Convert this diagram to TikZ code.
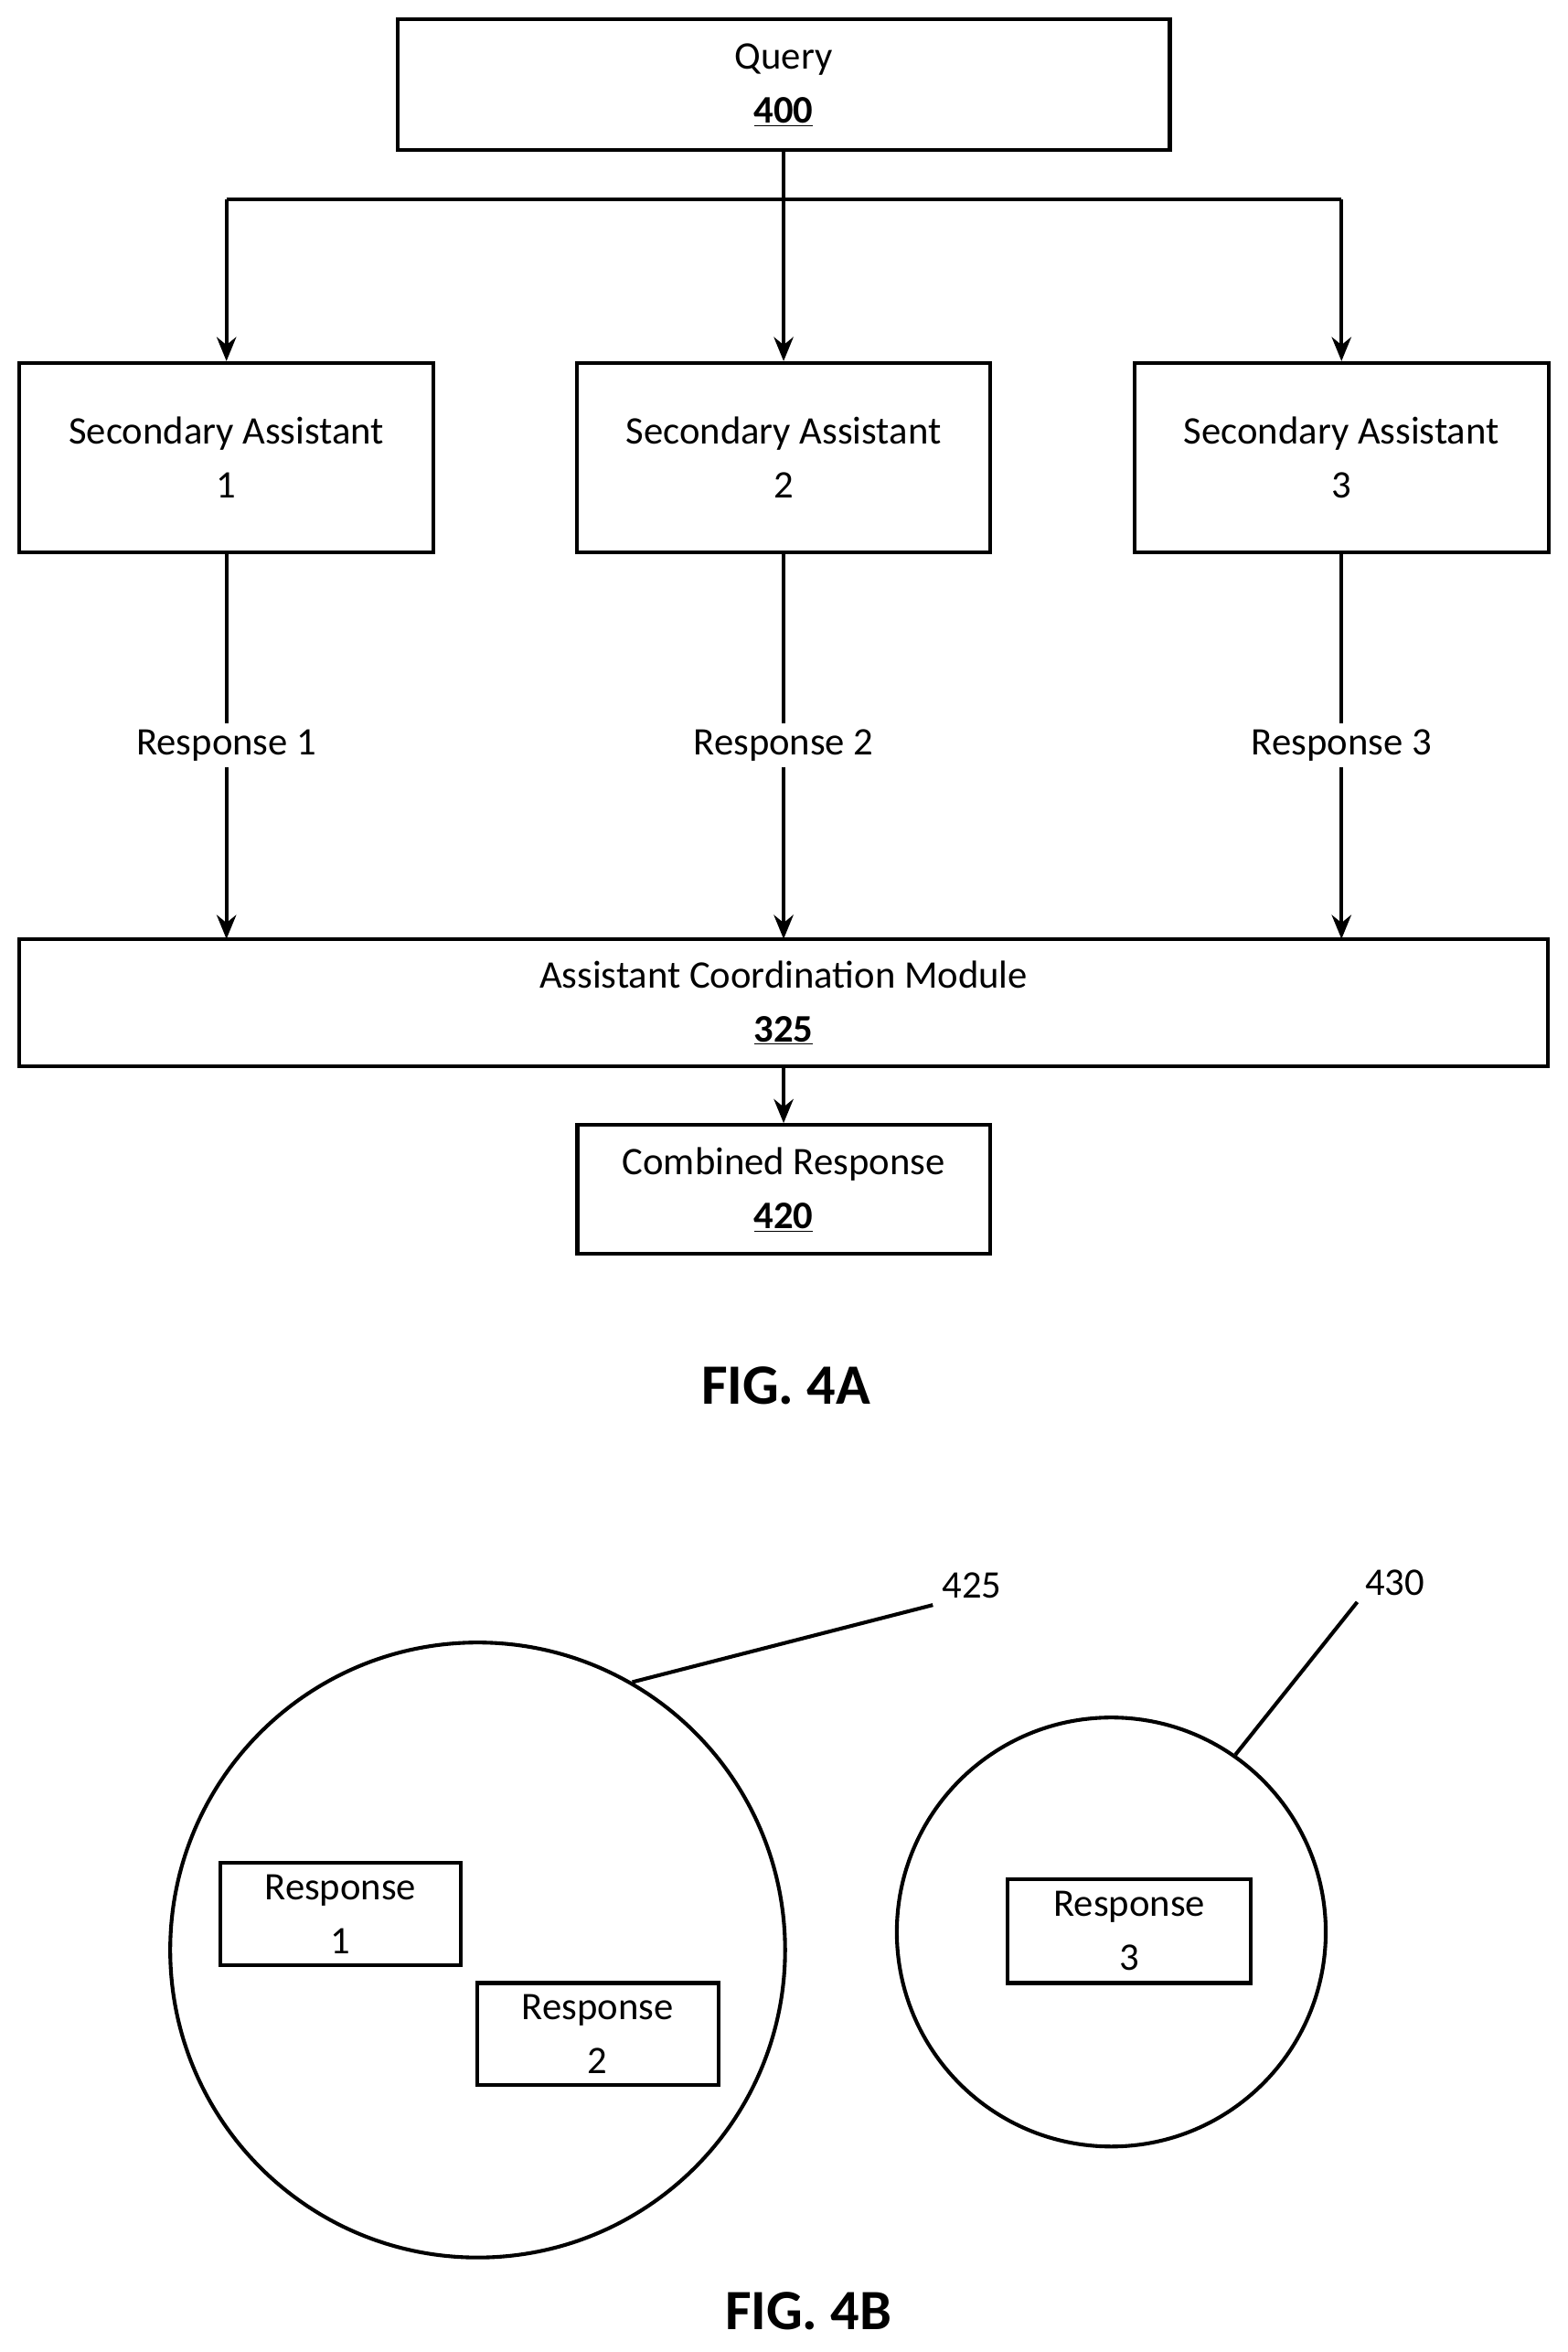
\documentclass[tikz,border=0pt]{standalone}
\usepackage{fontspec}
\setmainfont{Carlito}
\usetikzlibrary{arrows.meta}
\begin{document}
\begin{tikzpicture}[x=1pt,y=-1pt,
  box/.style={draw,line width=2.5pt,inner sep=0pt},
  lbl/.style={font=\fontsize{26}{36}\selectfont,align=center},
  arr/.style={line width=2.5pt,-{Stealth[length=16pt,width=13pt]}},
  ln/.style={line width=2.5pt},
  fig/.style={font=\fontsize{38}{44}\selectfont\bfseries}]
\useasboundingbox (0,0) rectangle (1045,1568);
\node[box,minimum width=515pt,minimum height=87pt] (q) at (522.5,56.5) {};
\node[lbl] at (522.5,56.5) {Query\\\textbf{\underline{400}}};
\node[box,minimum width=276pt,minimum height=126pt] (s1) at (151,305) {};
\node[box,minimum width=276pt,minimum height=126pt] (s2) at (522.5,305) {};
\node[box,minimum width=276pt,minimum height=126pt] (s3) at (894.5,305) {};
\node[lbl] at (151,305) {Secondary Assistant\\1};
\node[lbl] at (522.5,305) {Secondary Assistant\\2};
\node[lbl] at (894.5,305) {Secondary Assistant\\3};
\node[box,minimum width=1019pt,minimum height=85pt] (acm) at (522.5,668.5) {};
\node[lbl] at (522.5,668.5) {Assistant Coordination Module\\\textbf{\underline{325}}};
\node[box,minimum width=275pt,minimum height=86pt] (cr) at (522.5,793) {};
\node[lbl] at (522.5,793) {Combined Response\\\textbf{\underline{420}}};
\coordinate (bl) at (151,133); \coordinate (br) at (894.5,133);
\draw[ln] (bl) -- (br);
\draw[arr] (q.south) -- (s2.north);
\draw[arr] (bl) -- (s1.north);
\draw[arr] (br) -- (s3.north);
\node[lbl,fill=white,inner sep=4pt] (r1) at (151,497) {Response 1};
\node[lbl,fill=white,inner sep=4pt] (r2) at (522.5,497) {Response 2};
\node[lbl,fill=white,inner sep=4pt] (r3) at (894.5,497) {Response 3};
\draw[ln] (s1.south) -- (r1.north); \draw[arr] (r1.south) -- (151,626);
\draw[ln] (s2.south) -- (r2.north); \draw[arr] (r2.south) -- (522.5,626);
\draw[ln] (s3.south) -- (r3.north); \draw[arr] (r3.south) -- (894.5,626);
\draw[arr] (acm.south) -- (cr.north);
\node[fig] at (524,924) {FIG. 4A};
\node[draw,circle,line width=2.5pt,minimum size=410pt,inner sep=0pt] (c1) at (318.5,1300) {};
\node[draw,circle,line width=2.5pt,minimum size=286pt,inner sep=0pt] (c2) at (741,1288) {};
\node[lbl] (l425) at (648,1057) {425};
\node[lbl] (l430) at (930,1055) {430};
\draw[ln] (c1.60) -- (622,1070);
\draw[ln] (c2.55) -- (905,1068);
\node[box,minimum width=160pt,minimum height=68pt] (b1) at (227,1276) {};
\node[lbl] at (227,1276) {Response\\1};
\node[box,minimum width=161pt,minimum height=68pt] (b2) at (398.5,1356) {};
\node[lbl] at (398.5,1356) {Response\\2};
\node[box,minimum width=162pt,minimum height=69pt] (b3) at (753,1287.5) {};
\node[lbl] at (753,1287.5) {Response\\3};
\node[fig] at (539,1541) {FIG. 4B};
\end{tikzpicture}
\end{document}
